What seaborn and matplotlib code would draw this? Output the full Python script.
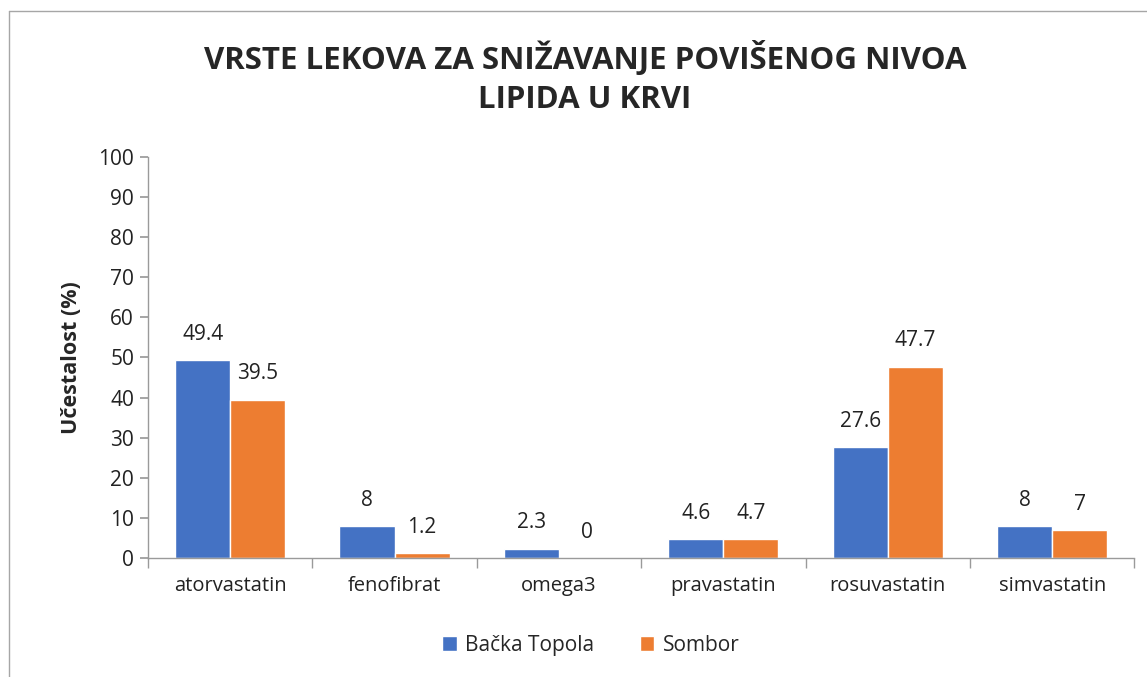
""" Vrste lekova za snizavanje povisenog nivoa lipida u krvi - grouped bar chart """

import pandas as pd
import matplotlib
matplotlib.use("Agg")
import matplotlib.pyplot as plt
from matplotlib.lines import Line2D
import seaborn as sns

# data
lekovi = ["atorvastatin", "fenofibrat", "omega3", "pravastatin", "rosuvastatin", "simvastatin"]
backa_topola = [49.4, 8, 2.3, 4.6, 27.6, 8]
sombor = [39.5, 1.2, 0, 4.7, 47.7, 7]
grupe = ["Bačka Topola", "Sombor"]
boje = ["#4472C4", "#ED7D31"]
y_ticks = [0, 10, 20, 30, 40, 50, 60, 70, 80, 90, 100]

df = pd.DataFrame({
    "lek": lekovi * 2,
    "grupa": [grupe[0]] * len(lekovi) + [grupe[1]] * len(lekovi),
    "vrednost": backa_topola + sombor,
})

sns.set_theme(style="white")
plt.rcParams["font.family"] = ["Open Sans", "DejaVu Sans"]

fig = plt.figure(figsize=(11.47, 6.77), dpi=100)
ax = fig.add_axes([0.129, 0.176, 0.860, 0.592])

sns.barplot(data=df, x="lek", y="vrednost", hue="grupa", order=lekovi,
            hue_order=grupe, palette=boje, width=0.67, gap=0,
            saturation=1, ax=ax, legend=True)

# data labels above bars
for cont in ax.containers:
    ax.bar_label(cont, labels=[f"{v.get_height():g}" for v in cont],
                 padding=11, fontsize=15, color="#222222")

ax.set_ylim(0, 100)
ax.set_xlim(-0.5, 5.5)
ax.set_yticks(y_ticks)
ax.tick_params(axis="y", labelsize=15, length=6, direction="out",
               color="#9a9a9a", left=True, labelcolor="#222222", pad=4)
ax.tick_params(axis="x", which="major", length=0, labelsize=14.5, pad=13,
               labelcolor="#222222")
ax.set_xticks([i - 0.5 for i in range(len(lekovi) + 1)], minor=True)
ax.tick_params(axis="x", which="minor", length=7, direction="out",
               color="#9a9a9a", bottom=True)

for s in ["top", "right"]:
    ax.spines[s].set_visible(False)
for s in ["left", "bottom"]:
    ax.spines[s].set_color("#9a9a9a")
    ax.spines[s].set_linewidth(1)

ax.set_xlabel("")
ax.set_ylabel("Učestalost (%)", fontsize=15.5, fontweight="bold", labelpad=12)

fig.suptitle("VRSTE LEKOVA ZA SNIŽAVANJE POVIŠENOG NIVOA\nLIPIDA U KRVI",
             x=0.51, y=0.94, fontsize=22.5, fontweight="bold", linespacing=1.4)

leg = ax.legend(loc="center", frameon=False, ncol=2, fontsize=15,
                handlelength=0.7, handleheight=0.7,
                handletextpad=0.4, columnspacing=2.2)
leg.set_bbox_to_anchor((0.515, 0.047), transform=fig.transFigure)

# chart frame
fig.add_artist(Line2D([0.008, 0.008], [0, 0.984], color="#a6a6a6", lw=1, transform=fig.transFigure))
fig.add_artist(Line2D([0.008, 1.0], [0.984, 0.984], color="#a6a6a6", lw=1, transform=fig.transFigure))

fig.savefig("out.png", dpi=100, facecolor="white")
